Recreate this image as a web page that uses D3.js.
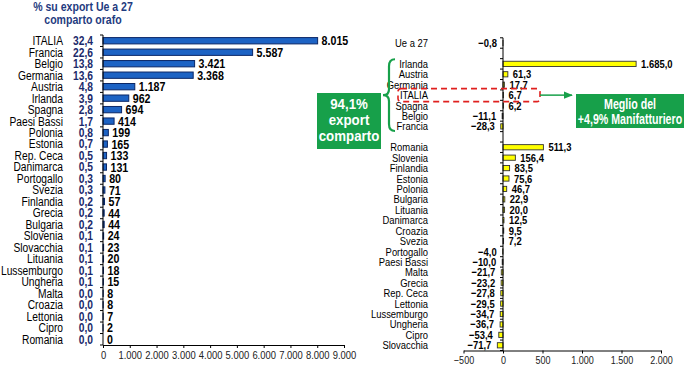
<!DOCTYPE html>
<html><head><meta charset="utf-8">
<script src="https://cdn.jsdelivr.net/npm/d3@7"></script>
<style>
html,body{margin:0;padding:0;background:#fff;}
svg{display:block;}
text{font-family:"Liberation Sans",Arial,sans-serif;}
</style></head>
<body>
<svg id="chart" width="700" height="367"></svg>
<script>
// ---- Left chart data ----
const leftCountries = ["ITALIA","Francia","Belgio","Germania","Austria","Irlanda","Spagna","Paesi Bassi","Polonia","Estonia","Rep. Ceca","Danimarca","Portogallo","Svezia","Finlandia","Grecia","Bulgaria","Slovenia","Slovacchia","Lituania","Lussemburgo","Ungheria","Malta","Croazia","Lettonia","Cipro","Romania"];
const leftShares = [32.4,22.6,13.8,13.6,4.8,3.9,2.8,1.7,0.8,0.7,0.5,0.5,0.3,0.3,0.2,0.2,0.2,0.1,0.1,0.1,0.1,0.1,0.0,0.0,0.0,0.0,0.0];
const leftValues = [8015,5587,3421,3368,1187,962,694,414,199,165,133,131,80,71,57,44,44,24,23,20,18,15,8,8,7,2,0];
const leftTicks = [0,1000,2000,3000,4000,5000,6000,7000,8000,9000];
const leftTitle = ["% su export Ue a 27","comparto orafo"];

// ---- Right chart data ----
const ueCountries = ["Ue a 27"];
const ueValues = [-0.8];
const topCountries = ["Irlanda","Austria","Germania","ITALIA","Spagna","Belgio","Francia"];
const topValues = [1685.0,61.3,17.7,6.7,6.2,-11.1,-28.3];
const restCountries = ["Romania","Slovenia","Finlandia","Estonia","Polonia","Bulgaria","Lituania","Danimarca","Croazia","Svezia","Portogallo","Paesi Bassi","Malta","Grecia","Rep. Ceca","Lettonia","Lussemburgo","Ungheria","Cipro","Slovacchia"];
const restValues = [511.3,156.4,83.5,75.6,46.7,22.9,20.0,12.5,9.5,7.2,-4.0,-10.0,-21.7,-23.2,-27.8,-29.5,-34.7,-36.7,-53.4,-71.7];
const rightTicks = [-500,0,500,1000,1500,2000];
const boxLeftText = ["94,1%","export","comparto"];
const boxRightText = ["Meglio del","+4,9% Manifatturiero"];

const loc = d3.formatLocale({decimal:",",thousands:".",grouping:[3],currency:["","€"]});
const fInt = loc.format(",d");
const f1 = loc.format(",.1f");
const NS = 0.82; // narrow factor

const svg = d3.select("#chart");
const GREEN = "#17a04a";
function place(sel, fx, fy, sx){
  sel.attr("x",0).attr("y",0)
     .attr("transform",(d,i)=>`translate(${fx(d,i)},${fy(d,i)}) scale(${sx||NS},1)`);
  return sel;
}

// ================= LEFT =================
const xL = d3.scaleLinear().domain([0,9000]).range([103,344]);
const yL = d3.scaleBand().domain(leftCountries).range([35,345]).paddingInner(0.45).paddingOuter(0.225);
const L = svg.append("g");

place(L.selectAll("text.title").data(leftTitle).join("text"), ()=>83, (d,i)=>10.5+i*13.5, 0.88)
  .attr("text-anchor","middle")
  .attr("font-size",12).attr("font-weight","bold").attr("fill","#1f3b80").text(d=>d);

const leftData = leftCountries.map((c,i)=>({c,s:leftShares[i],v:leftValues[i]}));
const cyL = d => yL(d.c)+yL.bandwidth()/2;

L.selectAll("rect.bar").data(leftData).join("rect")
  .attr("x",xL(0)).attr("y",d=>yL(d.c))
  .attr("width",d=>Math.max(0,xL(d.v)-xL(0))).attr("height",yL.bandwidth())
  .attr("fill","#1d63c4").attr("stroke","#0b2766").attr("stroke-width",1);

place(L.selectAll("text.cn").data(leftData).join("text"), ()=>63, cyL)
  .attr("dy","0.35em").attr("text-anchor","end").attr("font-size",12.5).attr("fill","#000").text(d=>d.c);

place(L.selectAll("text.sh").data(leftData).join("text"), ()=>93, cyL)
  .attr("dy","0.35em").attr("text-anchor","end").attr("font-size",12.5).attr("font-weight","bold").attr("fill","#1b2a6b")
  .text(d=>loc.format(".1f")(d.s));

place(L.selectAll("text.val").data(leftData).join("text"), d=>xL(d.v)+4, cyL)
  .attr("dy","0.35em").attr("font-size",13).attr("font-weight","bold").attr("fill","#000").text(d=>fInt(d.v));

const yLtop = yL.range()[0], yLbot = yL.range()[1];
L.append("line").attr("x1",xL(0)).attr("x2",xL(0)).attr("y1",yLtop).attr("y2",yLbot).attr("stroke","#000");
L.selectAll("line.yt").data(d3.range(leftCountries.length+1)).join("line")
  .attr("x1",xL(0)-3).attr("x2",xL(0)).attr("y1",i=>yLtop+i*yL.step()).attr("y2",i=>yLtop+i*yL.step()).attr("stroke","#000");

const axL = L.append("g").attr("transform",`translate(0,${yLbot})`)
  .call(d3.axisBottom(xL).tickValues(leftTicks).tickFormat(fInt).tickSize(3).tickSizeOuter(0));
axL.select(".domain").attr("stroke","#000");
axL.selectAll(".tick text").attr("font-size",11.5).attr("fill","#222")
  .attr("transform",`scale(${NS},1)`).style("font-family","'Liberation Sans',Arial,sans-serif");

// ================= RIGHT =================
const slots = [...ueCountries.map(c=>"U:"+c),"gap1",...topCountries.map(c=>"T:"+c),"gap2",...restCountries.map(c=>"R:"+c)];
const rightData = [
  ...ueCountries.map((c,i)=>({c,k:"U:"+c,v:ueValues[i]})),
  ...topCountries.map((c,i)=>({c,k:"T:"+c,v:topValues[i]})),
  ...restCountries.map((c,i)=>({c,k:"R:"+c,v:restValues[i]}))
];
const xR = d3.scaleLinear().domain([-500,2000]).range([463.5,661]);
const yR = d3.scaleBand().domain(slots).range([37.8,350.5]).paddingInner(0.5).paddingOuter(0.25);
const R = svg.append("g");
const cy = k => yR(k)+yR.bandwidth()/2;

R.selectAll("rect.bar").data(rightData).join("rect")
  .attr("x",d=>Math.min(xR(0),xR(d.v))).attr("y",d=>yR(d.k))
  .attr("width",d=>Math.abs(xR(d.v)-xR(0))).attr("height",yR.bandwidth())
  .attr("fill","#ffff00").attr("stroke","#333").attr("stroke-width",0.9);

place(R.selectAll("text.cn").data(rightData).join("text"), ()=>428, d=>cy(d.k))
  .attr("dy","0.35em").attr("text-anchor","end").attr("font-size",11.5).attr("fill","#000").text(d=>d.c);

place(R.selectAll("text.val").data(rightData).join("text"), d=>d.v>=0? xR(d.v)+5 : xR(d.v)-6, d=>cy(d.k))
  .attr("dy","0.35em").attr("text-anchor",d=>d.v>=0?"start":"end")
  .attr("font-size",11.5).attr("font-weight","bold").attr("fill","#000").text(d=>f1(d.v));

const yRtop = yR.range()[0], yRbot = yR.range()[1];
R.append("line").attr("x1",xR(0)).attr("x2",xR(0)).attr("y1",yRtop).attr("y2",yRbot).attr("stroke","#000");
R.selectAll("line.yt").data(d3.range(slots.length+1)).join("line")
  .attr("x1",xR(0)-3).attr("x2",xR(0)).attr("y1",i=>yRtop+i*yR.step()).attr("y2",i=>yRtop+i*yR.step()).attr("stroke","#000");

const axR = R.append("g").attr("transform",`translate(0,${yRbot})`)
  .call(d3.axisBottom(xR).tickValues(rightTicks).tickFormat(fInt).tickSize(3).tickSizeOuter(0));
axR.select(".domain").attr("stroke","#000");
axR.selectAll(".tick text").attr("font-size",11).attr("fill","#222")
  .attr("transform",`scale(${NS},1)`).style("font-family","'Liberation Sans',Arial,sans-serif");

// ---- Annotations ----
const yIt = cy("T:ITALIA");
R.append("rect").attr("x",398).attr("y",yIt-6.5).attr("width",142).attr("height",13).attr("rx",3)
  .attr("fill","none").attr("stroke","#e0201f").attr("stroke-width",1.6).attr("stroke-dasharray","6,4");

svg.append("defs").append("marker").attr("id","arr").attr("viewBox","0 0 10 10")
  .attr("refX",9).attr("refY",5).attr("markerWidth",6).attr("markerHeight",6).attr("orient","auto")
  .append("path").attr("d","M0,1 L10,5 L0,9 Z").attr("fill",GREEN);
R.append("line").attr("x1",540).attr("x2",572).attr("y1",yIt).attr("y2",yIt)
  .attr("stroke",GREEN).attr("stroke-width",1.5).attr("marker-end","url(#arr)");

// brace
const yTop = yR("T:Irlanda")-2, yBot = yR("T:Francia")+yR.bandwidth()+2;
const x1 = 395, xm = 389, x0 = 383;
R.append("path").attr("d",
  `M${x1},${yTop} Q${xm},${yTop} ${xm},${yTop+7} L${xm},${yIt-6} Q${xm},${yIt} ${x0},${yIt} Q${xm},${yIt} ${xm},${yIt+6} L${xm},${yBot-7} Q${xm},${yBot} ${x1},${yBot}`)
  .attr("fill","none").attr("stroke",GREEN).attr("stroke-width",2.2);

// left green box
const gb = R.append("g");
gb.append("rect").attr("x",317).attr("y",93).attr("width",64).attr("height",56).attr("fill",GREEN);
place(gb.selectAll("text").data(boxLeftText).join("text"), ()=>349, (d,i)=>104+i*16, 0.95)
  .attr("dy","0.35em").attr("text-anchor","middle")
  .attr("font-size",14).attr("font-weight","bold").attr("fill","#fff").text(d=>d);

// right green box
const gr = R.append("g");
gr.append("rect").attr("x",576).attr("y",94).attr("width",108).attr("height",34).attr("fill",GREEN);
place(gr.selectAll("text").data(boxRightText).join("text"), ()=>630, (d,i)=>104+i*15.5, 0.76)
  .attr("dy","0.35em").attr("text-anchor","middle")
  .attr("font-size",14).attr("font-weight","bold").attr("fill","#fff").text(d=>d);
</script>
</body></html>
